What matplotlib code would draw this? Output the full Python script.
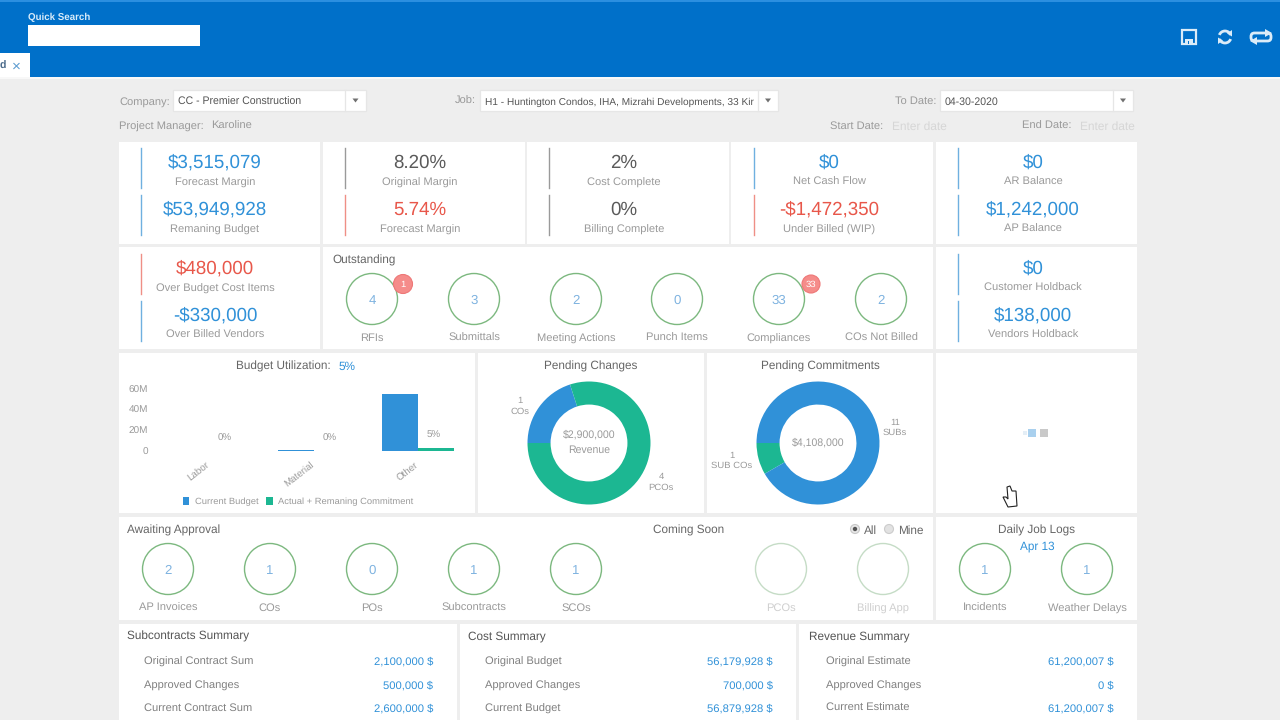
import matplotlib
matplotlib.use('Agg')
import matplotlib.pyplot as plt
from matplotlib.patches import Rectangle, Circle, Polygon, FancyBboxPatch, Arc
from matplotlib.transforms import ScaledTranslation

plt.rcParams['font.family'] = ['Liberation Sans', 'DejaVu Sans']
plt.rcParams['text.hinting'] = 'no_hinting'

BLUE = '#3091d8'; GREEN = '#1cb792'; RED = '#e8574a'
GREY = '#6e6e6e'; LGREY = '#9a9a9a'; PALE = '#cfcfcf'; RING = '#7cb87f'

# kpi cards: (value, label, colour key)
kpi_top = [
    [('$3,515,079', 'Forecast Margin', 'b'), ('$53,949,928', 'Remaning Budget', 'b')],
    [('8.20%', 'Original Margin', 'g'), ('5.74%', 'Forecast Margin', 'r')],
    [('2%', 'Cost Complete', 'g'), ('0%', 'Billing Complete', 'g')],
    [('$0', 'Net Cash Flow', 'b'), ('-$1,472,350', 'Under Billed (WIP)', 'r')],
    [('$0', 'AR Balance', 'b'), ('$1,242,000', 'AP Balance', 'b')],
]
kpi_left = [('$480,000', 'Over Budget Cost Items', 'r'), ('-$330,000', 'Over Billed Vendors', 'b')]
kpi_right = [('$0', 'Customer Holdback', 'b'), ('$138,000', 'Vendors Holdback', 'b')]

outstanding_labels = ['RFIs', 'Submittals', 'Meeting Actions', 'Punch Items', 'Compliances', 'COs Not Billed']
outstanding_counts = [4, 3, 2, 0, 33, 2]
approval_labels = ['AP Invoices', 'COs', 'POs', 'Subcontracts', 'SCOs']
approval_counts = [2, 1, 0, 1, 1]
log_labels = ['Incidents', 'Weather Delays']
log_counts = [1, 1]

# budget chart, values in millions
bar_categories = ['Labor', 'Material', 'Other']
current_budget = [0, 0.5, 55.2]
actual_commit = [0, 0, 2.9]
bar_pct = ['0%', '0%', '5%']

changes_counts = [1, 4]
commit_counts = [1, 11]

summary_titles = ['Subcontracts Summary', 'Cost Summary', 'Revenue Summary']
summary_labels = [
    ['Original Contract Sum', 'Approved Changes', 'Current Contract Sum'],
    ['Original Budget', 'Approved Changes', 'Current Budget'],
    ['Original Estimate', 'Approved Changes', 'Current Estimate'],
]
summary_values = [
    ['2,100,000 $', '500,000 $', '2,600,000 $'],
    ['56,179,928 $', '700,000 $', '56,879,928 $'],
    ['61,200,007 $', '0 $', '61,200,007 $'],
]

fig = plt.figure(figsize=(12.8, 7.2), dpi=100, facecolor='#eeeeee')
bg = fig.add_axes([0, 0, 1, 1])
bg.set_xlim(0, 1280); bg.set_ylim(720, 0); bg.axis('off')


def px_axes(x0, y0, x1, y1):
    # axes placed by screenshot pixels
    ax = fig.add_axes([x0 / 1280, 1 - y1 / 720, (x1 - x0) / 1280, (y1 - y0) / 720])
    ax.patch.set_alpha(0)
    return ax


def txt(x, y, s, size=8.6, color=GREY, ha='center', **kw):
    # baseline placed from the cap height so a row of labels stays level
    base = y + 0.36 * size * 100 / 72 + 0.3
    bg.text(x, base, s, fontsize=size, color=color, ha=ha, va='baseline', **kw)


def box(x0, y0, x1, y1, fc='white', ec='none', lw=0, z=1):
    bg.add_patch(Rectangle((x0, y0), x1 - x0, y1 - y0, fc=fc, ec=ec, lw=lw, zorder=z))


def dropdown(x0, x1, div, y0, y1, s, size=7.6):
    box(x0, y0, x1, y1, ec='#e6e6e6', lw=0.9)
    m = (div + x1) / 2
    bg.add_patch(Polygon([(m - 3, 98.5), (m + 3, 98.5), (m, 102.5)], fc='#707070', zorder=3))
    txt(x0 + 5, (y0 + y1) / 2, s, size, '#555555', ha='left', zorder=3)
    bg.plot([div, div], [y0, y1], color='#e6e6e6', lw=0.9, zorder=4)


def ring(x, y, n, label, faded=False):
    col = '#c5dcc6' if faded else RING
    bg.add_patch(Circle((x, y), 25.5, fc='white', ec=col, lw=1.0, zorder=2))
    if n is not None:
        txt(x, y, str(n), 9.5, '#7fb3e0', zorder=3)
    txt(x, y + 38, label, 8.05, PALE if faded else LGREY)


def kpi(item, line_x, cx, y_top):
    value, label, key = item
    col = {'b': BLUE, 'r': RED, 'g': '#5a5a5a'}[key]
    line_col = {'b': '#6fb0e0', 'r': '#ef8f86', 'g': '#9a9a9a'}[key]
    bg.plot([line_x, line_x], [y_top, y_top + 40], color=line_col, lw=1.0, zorder=2)
    txt(cx, y_top + 13, value, 13.5, col, zorder=3)
    txt(cx, y_top + 33, label, 8.05, LGREY, zorder=3)


# header
box(0, 0, 1280, 77, fc='#0070c9')
box(0, 0, 1280, 1.5, fc='#2b8fe0', z=2)
box(0, 77, 1280, 78.5, fc='#f8f8f8', z=2)
txt(28, 16.5, 'Quick Search', 7.0, '#d9ecfa', ha='left', weight='bold', zorder=3)
box(28, 25, 199.5, 46, z=3)
box(0, 53, 29.5, 77, z=3)
txt(0, 64.5, 'd', 7.6, '#4a6a8a', ha='left', zorder=4, weight='bold')
txt(16, 64.5, '×', 11, '#5b9bd0', zorder=4)

# header icons
ic = '#dcecf8'
bg.add_patch(Rectangle((1182, 30), 14, 14, fc='none', ec=ic, lw=1.6, zorder=3))
bg.add_patch(Rectangle((1185, 38.5), 8, 5.5, fc=ic, ec='none', zorder=3))
bg.add_patch(Rectangle((1187.5, 40.5), 1.6, 3.5, fc='#0070c9', ec='none', zorder=4))
bg.add_patch(Arc((1225, 37), 12, 12, theta1=200, theta2=340, ec=ic, lw=2, zorder=3))
bg.add_patch(Arc((1225, 37), 12, 12, theta1=20, theta2=160, ec=ic, lw=2, zorder=3))
bg.add_patch(Polygon([(1218, 44), (1218, 37.5), (1223, 40.5)], fc=ic, zorder=3))
bg.add_patch(Polygon([(1232, 30), (1232, 36.5), (1227, 33.5)], fc=ic, zorder=3))
bg.add_patch(FancyBboxPatch((1251, 33), 20, 8, boxstyle='round,pad=0,rounding_size=3.5', fc='none', ec=ic, lw=2, zorder=3))
bg.add_patch(Polygon([(1265, 29), (1265, 37), (1272, 33)], fc=ic, zorder=4))
bg.add_patch(Polygon([(1257, 37), (1257, 45), (1250, 41)], fc=ic, zorder=4))

# filter bar
txt(119, 100, 'Company:', 8.0, LGREY, ha='left')
dropdown(173, 366, 345, 90, 111, 'CC - Premier Construction')
txt(476, 100, 'Job:', 8.0, LGREY, ha='right')
dropdown(480, 778, 758, 90, 111, 'H1 - Huntington Condos, IHA, Mizrahi Developments, 33 Kir', 7.3)
txt(936, 100, 'To Date:', 8.0, LGREY, ha='right')
dropdown(940, 1133, 1113, 90, 111, '04-30-2020')
txt(119, 125, 'Project Manager:', 8.0, LGREY, ha='left')
txt(211, 125, 'Karoline', 8.0, LGREY, ha='left')
txt(883, 125, 'Start Date:', 8.0, LGREY, ha='right')
txt(892, 125, 'Enter date', 8.6, '#d6d6d6', ha='left')
txt(1071, 125, 'End Date:', 8.0, LGREY, ha='right')
txt(1080, 125, 'Enter date', 8.6, '#d6d6d6', ha='left')

# kpi row 1
card_x = [(119, 320), (323, 525), (527, 729), (731, 933), (936, 1137)]
line_xs = [141, 345, 549, 754, 958]
centers = [215, 420, 624, 829, 1033]
for (x0, x1), lx, cx, items in zip(card_x, line_xs, centers, kpi_top):
    box(x0, 142, x1, 244)
    kpi(items[0], lx, cx, 148)
    kpi(items[1], lx, cx, 195)

# row 2
box(119, 247, 320, 349)
box(323, 247, 933, 349)
box(936, 247, 1137, 349)
for item, y in zip(kpi_left, [254, 301]):
    kpi(item, 141, 215, y)
for item, y in zip(kpi_right, [254, 301]):
    kpi(item, 958, 1033, y)
txt(332, 259, 'Outstanding', 8.5, '#666666', ha='left')
out_x = [372, 474, 576, 677, 779, 881]
for x, n, label in zip(out_x, outstanding_counts, outstanding_labels):
    ring(x, 299, n, label)
for x, s, r in [(403, '1', 9.5), (811, '33', 9)]:
    bg.add_patch(Circle((x, 284), r, fc='#f58c8a', ec='#ee7777', lw=0.8, zorder=4))
    txt(x, 283.5, s, 6.8, 'white', zorder=5)

# row 3 cards
box(119, 353, 475, 513)
box(478, 353, 704, 513)
box(707, 353, 933, 513)
box(936, 353, 1137, 513)
txt(236, 365, 'Budget Utilization:', 8.5, '#666666', ha='left')
txt(339, 365, '5%', 8.5, BLUE, ha='left')
txt(591, 365, 'Pending Changes', 8.5, '#666666')
txt(820, 365, 'Pending Commitments', 8.5, '#666666')

# budget bars
ax = px_axes(157, 389, 470.5, 451)
xs = range(len(bar_categories))
b1 = ax.bar([x - 0.172 for x in xs], current_budget, 0.345, color=BLUE, label='Current Budget')
b2 = ax.bar([x + 0.172 for x in xs], actual_commit, 0.345, color=GREEN, label='Actual + Remaning Commitment')
ax.set_xlim(-0.5, 2.5); ax.set_ylim(0, 60)
for s in ax.spines.values():
    s.set_visible(False)
ax.set_yticks([0, 20, 40, 60], ['0', '20M', '40M', '60M'], fontsize=7.2, color=LGREY)
ax.set_xticks(list(xs), bar_categories, fontsize=7.0, color=LGREY, rotation=38, ha='right', rotation_mode='anchor')
ax.tick_params(length=0, axis='y', pad=6.5)
ax.tick_params(length=0, axis='x', pad=6.5)
shift = ScaledTranslation(-3 / 72, 0, fig.dpi_scale_trans)
for lab in ax.get_xticklabels():
    lab.set_transform(lab.get_transform() + shift)
for x, s, top in zip(xs, bar_pct, [12.5, 12.5, 15]):
    ax.text(x + 0.15, top, s, fontsize=7.0, color=LGREY, ha='center', va='center')
ax.legend(handles=[b1, b2], ncols=2, frameon=False, loc='center', bbox_to_anchor=(0.45, -0.82),
          fontsize=6.75, labelcolor=LGREY, handlelength=0.72, handleheight=0.95, handletextpad=0.6, columnspacing=0.8)

# donuts
ax = px_axes(589 - 61.5, 443 - 61.5, 589 + 61.5, 443 + 61.5)
ax.pie(changes_counts, colors=[BLUE, GREEN], startangle=180, counterclock=False, radius=1,
       wedgeprops={'width': 0.375})
ax.set_xlim(-1, 1); ax.set_ylim(-1, 1)
txt(589, 433.5, '$2,900,000', 7.6, LGREY, zorder=5)
txt(589, 448.5, 'Revenue', 7.6, LGREY, zorder=5)
txt(520, 399, '1', 6.8, LGREY); txt(520, 410, 'COs', 6.8, LGREY)
txt(661, 475, '4', 6.8, LGREY); txt(661, 486, 'PCOs', 6.8, LGREY)

ax = px_axes(818 - 61.5, 443 - 61.5, 818 + 61.5, 443 + 61.5)
ax.pie(commit_counts, colors=[GREEN, BLUE], startangle=180, radius=1,
       wedgeprops={'width': 0.375})
ax.set_xlim(-1, 1); ax.set_ylim(-1, 1)
txt(818, 441.5, '$4,108,000', 7.6, LGREY, zorder=5)
txt(895, 421, '11', 6.8, LGREY); txt(895, 431, 'SUBs', 6.8, LGREY)
txt(732, 454, '1', 6.8, LGREY); txt(732, 464.5, 'SUB COs', 6.8, LGREY)

# loading blocks in the empty card
box(1023, 431, 1027, 435, fc='#e4eef6', z=2)
box(1028, 429, 1036, 437, fc='#a9d0ee', z=2)
box(1040, 429, 1048, 437, fc='#c9c9c9', z=2)

# hand cursor
hand = [(1007, 487), (1010, 486), (1012, 491), (1016, 491), (1017, 506), (1008, 507), (1003, 497), (1006, 497), (1008, 499)]
bg.add_patch(Polygon(hand, fc='white', ec='#222222', lw=0.8, zorder=6))

# row 4
box(119, 517, 933, 620)
box(936, 517, 1137, 620)
txt(127, 529, 'Awaiting Approval', 8.5, '#666666', ha='left')
txt(653, 529, 'Coming Soon', 8.5, '#666666', ha='left')
bg.add_patch(Circle((855, 529), 4.5, fc='#e8e8e8', ec='#c8c8c8', lw=0.8, zorder=2))
bg.add_patch(Circle((855, 529), 2.2, fc='#555555', zorder=3))
txt(864, 529, 'All', 8.5, '#666666', ha='left')
bg.add_patch(Circle((889, 529), 4.5, fc='#e2e2e2', ec='#cccccc', lw=0.8, zorder=2))
txt(898, 529, 'Mine', 8.5, '#666666', ha='left')
for x, n, label in zip([168, 270, 372, 474, 576], approval_counts, approval_labels):
    ring(x, 569, n, label)
ring(781, 569, None, 'PCOs', faded=True)
ring(883, 569, None, 'Billing App', faded=True)
txt(1037, 529, 'Daily Job Logs', 8.5, '#666666')
txt(1037, 545, 'Apr 13', 8.5, BLUE, zorder=4)
for x, n, label in zip([985, 1087], log_counts, log_labels):
    ring(x, 569, n, label)

# summaries
sum_boxes = [(119, 457, 127, 144, 433), (460, 796, 468, 485, 773), (799, 1137, 809, 826, 1114)]
for (x0, x1, tx, lx, vx), title, labels, vals in zip(sum_boxes, summary_titles, summary_labels, summary_values):
    box(x0, 624, x1, 720)
    txt(tx, 635, title, 8.5, '#555555', ha='left')
    for y, lab, val in zip([660, 684, 707], labels, vals):
        txt(lx, y, lab, 8.0, '#808080', ha='left')
        txt(vx, y, val, 8.1, BLUE, ha='right')

fig.savefig('out.png', dpi=100, facecolor=fig.get_facecolor())
